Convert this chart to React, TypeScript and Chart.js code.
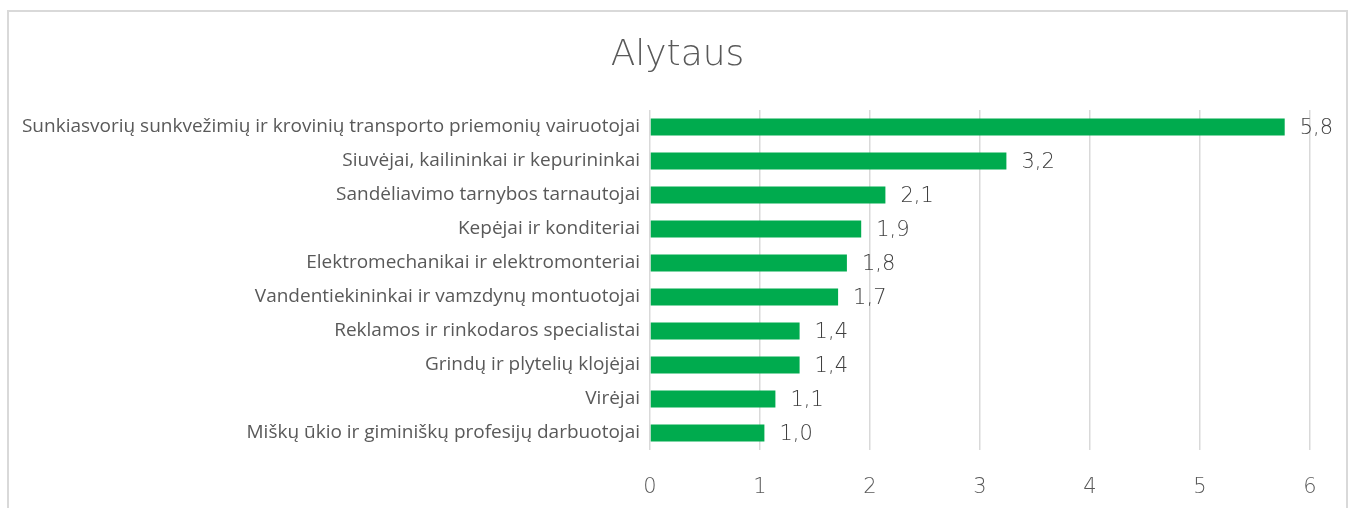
import React, { useEffect, useRef } from 'react';
import { Chart, registerables } from 'chart.js';

Chart.register(...registerables);

const title = 'Alytaus';
const categories = [
  'Sunkiasvorių sunkvežimių ir krovinių transporto priemonių vairuotojai',
  'Siuvėjai, kailininkai ir kepurininkai',
  'Sandėliavimo tarnybos tarnautojai',
  'Kepėjai ir konditeriai',
  'Elektromechanikai ir elektromonteriai',
  'Vandentiekininkai ir vamzdynų montuotojai',
  'Reklamos ir rinkodaros specialistai',
  'Grindų ir plytelių klojėjai',
  'Virėjai',
  'Miškų ūkio ir giminiškų profesijų darbuotojai',
];
const values = [5.77, 3.24, 2.14, 1.92, 1.79, 1.71, 1.36, 1.36, 1.14, 1.04];
const xMin = 0;
const xMax = 6;
const xStep = 1;

const fmt = (v: number) => v.toFixed(1).replace('.', ',');

const NUM_FONT = '"DejaVu Sans"';

const valueLabels = {
  id: 'valueLabels',
  afterDatasetsDraw(chart: any) {
    const ctx = chart.ctx;
    const meta = chart.getDatasetMeta(0);
    ctx.save();
    ctx.font = `200 21px ${NUM_FONT}`;
    ctx.fillStyle = '#404040';
    ctx.textBaseline = 'middle';
    ctx.textAlign = 'left';
    meta.data.forEach((bar: any, i: number) => {
      ctx.fillText(fmt(values[i]), bar.x + 15, bar.y + 2);
    });
    ctx.restore();
  },
};

const centeredTitle = {
  id: 'centeredTitle',
  afterDraw(chart: any) {
    const ctx = chart.ctx;
    ctx.save();
    ctx.font = `200 36px ${NUM_FONT}`;
    ctx.fillStyle = '#595959';
    ctx.textBaseline = 'middle';
    ctx.textAlign = 'center';
    ctx.fillText(title, chart.width / 2, 44);
    ctx.restore();
  },
};

export default function App() {
  const ref = useRef<HTMLCanvasElement | null>(null);
  useEffect(() => {
    if (!ref.current) return;
    const chart = new Chart(ref.current, {
      type: 'bar',
      data: {
        labels: categories,
        datasets: [
          {
            data: values,
            backgroundColor: '#00AB4E',
            borderWidth: 0,
            barPercentage: 0.5,
            categoryPercentage: 1,
          },
        ],
      },
      options: {
        indexAxis: 'y',
        responsive: false,
        animation: false,
        layout: { padding: { left: 0, right: 36, top: 98, bottom: 0 } },
        plugins: {
          legend: { display: false },
          tooltip: { enabled: false },
          title: { display: false },
        },
        scales: {
          x: {
            min: xMin,
            max: xMax,
            ticks: {
              stepSize: xStep,
              color: '#595959',
              font: { family: NUM_FONT, size: 21, weight: '200' as any },
              padding: 25,
            },
            grid: { color: '#d9d9d9', lineWidth: 1.5, drawTicks: false },
            border: { display: false },
            afterFit: (s: any) => {
              s.height = 58;
            },
          },
          y: {
            ticks: {
              color: '#595959',
              font: { family: '"Open Sans"', size: 19 },
              padding: 10,
            },
            grid: { display: false, drawTicks: false },
            border: { display: false },
            afterFit: (s: any) => {
              s.width = 641;
            },
          },
        },
      },
      plugins: [valueLabels, centeredTitle],
    });
    return () => chart.destroy();
  }, []);
  return (
    <div
      style={{
        position: 'absolute',
        left: 7,
        top: 10,
        width: 1337,
        height: 498,
        borderTop: '2px solid #d9d9d9',
        borderLeft: '2px solid #d9d9d9',
        borderRight: '2px solid #d9d9d9',
        background: '#fff',
      }}
    >
      <canvas ref={ref} width={1337} height={496} style={{ display: 'block' }} />
    </div>
  );
}
